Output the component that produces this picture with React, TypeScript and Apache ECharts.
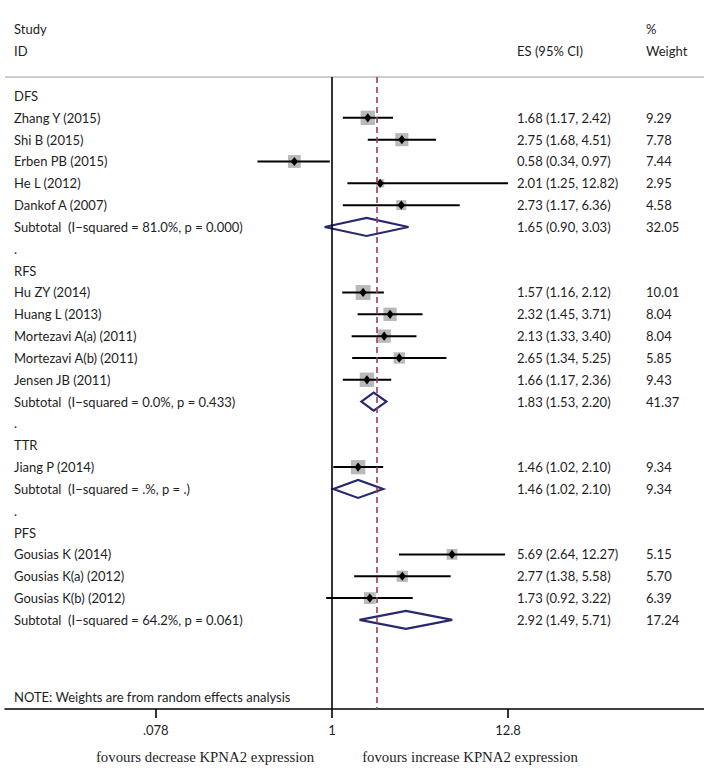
import React, { useEffect, useRef } from 'react';
import * as echarts from 'echarts';

// Forest plot rows, top to bottom
const rowLabels = [
  'DFS',
  'Zhang Y (2015)',
  'Shi B (2015)',
  'Erben PB (2015)',
  'He L (2012)',
  'Dankof A (2007)',
  'Subtotal  (I\u2212squared = 81.0%, p = 0.000)',
  '.',
  'RFS',
  'Hu ZY (2014)',
  'Huang L (2013)',
  'Mortezavi A(a) (2011)',
  'Mortezavi A(b) (2011)',
  'Jensen JB (2011)',
  'Subtotal  (I\u2212squared = 0.0%, p = 0.433)',
  '.',
  'TTR',
  'Jiang P (2014)',
  'Subtotal  (I\u2212squared = .%, p = .)',
  '.',
  'PFS',
  'Gousias K (2014)',
  'Gousias K(a) (2012)',
  'Gousias K(b) (2012)',
  'Subtotal  (I\u2212squared = 64.2%, p = 0.061)',
];

const rowKinds = [
  'head', 'study', 'study', 'study', 'study', 'study', 'sub', 'gap',
  'head', 'study', 'study', 'study', 'study', 'study', 'sub', 'gap',
  'head', 'study', 'sub', 'gap',
  'head', 'study', 'study', 'study', 'sub',
];

const esValues = [
  null, 1.68, 2.75, 0.58, 2.01, 2.73, 1.65, null,
  null, 1.57, 2.32, 2.13, 2.65, 1.66, 1.83, null,
  null, 1.46, 1.46, null,
  null, 5.69, 2.77, 1.73, 2.92,
];

const ciLower = [
  null, 1.17, 1.68, 0.34, 1.25, 1.17, 0.90, null,
  null, 1.16, 1.45, 1.33, 1.34, 1.17, 1.53, null,
  null, 1.02, 1.02, null,
  null, 2.64, 1.38, 0.92, 1.49,
];

const ciUpper = [
  null, 2.42, 4.51, 0.97, 12.82, 6.36, 3.03, null,
  null, 2.12, 3.71, 3.40, 5.25, 2.36, 2.20, null,
  null, 2.10, 2.10, null,
  null, 12.27, 5.58, 3.22, 5.71,
];

const weights = [
  null, 9.29, 7.78, 7.44, 2.95, 4.58, 32.05, null,
  null, 10.01, 8.04, 8.04, 5.85, 9.43, 41.37, null,
  null, 9.34, 9.34, null,
  null, 5.15, 5.70, 6.39, 17.24,
];

const overallES = 1.92;

const tickValues = [0.078, 1, 12.8];
const tickLabels = ['.078', '1', '12.8'];

// Layout
const WIDTH = 704;
const HEIGHT = 774;
const GRID_LEFT = 5;
const GRID_TOP = 77;
const GRID_BOTTOM = 65;
const X_MIN = 0.00878;
const X_MAX = 218.8;
const Y_MIN = -0.87;
const Y_MAX = 28.08;
const LABEL_X = 14;
const ES_X = 517;
const WT_X = 646;
const BOX_SCALE = 4.7;

const SANS = 'Lato';
const TEXT_SIZE = 13;
const TEXT_COLOR = '#1e1e1e';
const NAVY = '#28286f';
const BOX_GREY = '#b9b9b9';
const REF_RED = '#9e3b52';

const font = `${TEXT_SIZE}px ${SANS}`;

function fmt(v: number) {
  return v.toFixed(2);
}

export default function App() {
  const ref = useRef<HTMLDivElement>(null);

  useEffect(() => {
    document.body.style.margin = '0';
    if (!ref.current) return;
    const chart = echarts.init(ref.current, undefined, { renderer: 'svg' });

    const rowData = rowLabels.map((_, i) => ({
      value: [esValues[i] ?? 1, i],
    }));

    const renderRow = (params: any, api: any) => {
      const i = api.value(1) as number;
      const yPx = api.coord([1, i])[1];
      const children: any[] = [];
      children.push({
        type: 'text',
        x: LABEL_X,
        y: yPx,
        style: {
          text: rowLabels[i],
          font,
          fill: TEXT_COLOR,
          textAlign: 'left',
          textVerticalAlign: 'middle',
        },
      });
      const es = esValues[i];
      if (es != null) {
        const lo = ciLower[i] as number;
        const hi = ciUpper[i] as number;
        const xl = api.coord([lo, i])[0];
        const xh = api.coord([hi, i])[0];
        const xe = api.coord([es, i])[0];
        if (rowKinds[i] === 'study') {
          const side = BOX_SCALE * Math.sqrt(weights[i] as number);
          children.push({
            type: 'rect',
            shape: { x: xe - side / 2, y: yPx - side / 2, width: side, height: side },
            style: { fill: BOX_GREY },
          });
          children.push({
            type: 'line',
            shape: { x1: xl, y1: yPx, x2: xh, y2: yPx },
            style: { stroke: '#000', lineWidth: 2 },
          });
          children.push({
            type: 'polygon',
            shape: {
              points: [
                [xe - 3.6, yPx],
                [xe, yPx - 4.6],
                [xe + 3.6, yPx],
                [xe, yPx + 4.6],
              ],
            },
            style: { fill: '#000' },
          });
        } else {
          children.push({
            type: 'polygon',
            shape: {
              points: [
                [xl, yPx],
                [xe, yPx - 9],
                [xh, yPx],
                [xe, yPx + 9],
              ],
            },
            style: { fill: 'none', stroke: NAVY, lineWidth: 2.2 },
          });
        }
        children.push({
          type: 'text',
          x: ES_X,
          y: yPx,
          style: {
            text: `${fmt(es)} (${fmt(lo)}, ${fmt(hi)})`,
            font,
            fill: TEXT_COLOR,
            textAlign: 'left',
            textVerticalAlign: 'middle',
          },
        });
        children.push({
          type: 'text',
          x: WT_X,
          y: yPx,
          style: {
            text: fmt(weights[i] as number),
            font,
            fill: TEXT_COLOR,
            textAlign: 'left',
            textVerticalAlign: 'middle',
          },
        });
      }
      return { type: 'group', children };
    };

    const headerText = (text: string, x: number, y: number) => ({
      type: 'text',
      x,
      y,
      style: { text, font, fill: TEXT_COLOR, textAlign: 'left', textVerticalAlign: 'middle' },
    });

    const serifText = (text: string, x: number, y: number) => ({
      type: 'text',
      x,
      y,
      style: {
        text,
        font: '14.8px "Liberation Serif"',
        fill: TEXT_COLOR,
        textAlign: 'center',
        textVerticalAlign: 'middle',
      },
    });

    chart.setOption({
      animation: false,
      backgroundColor: '#ffffff',
      grid: {
        left: GRID_LEFT,
        right: 0,
        top: GRID_TOP,
        bottom: GRID_BOTTOM,
        containLabel: false,
        outerBoundsMode: 'none',
      },
      xAxis: {
        type: 'log',
        logBase: 12.8,
        min: X_MIN,
        max: X_MAX,
        position: 'bottom',
        axisLine: { show: true, onZero: false, lineStyle: { color: '#000', width: 1.6 } },
        axisTick: {
          show: true,
          customValues: tickValues,
          length: 9,
          lineStyle: { color: '#000', width: 1.6 },
        },
        axisLabel: {
          customValues: tickValues,
          margin: 14,
          fontFamily: SANS,
          fontSize: TEXT_SIZE,
          color: TEXT_COLOR,
          formatter: (v: number) => {
            let best = 0;
            tickValues.forEach((t, k) => {
              if (Math.abs(Math.log(t) - Math.log(v)) < Math.abs(Math.log(tickValues[best]) - Math.log(v))) best = k;
            });
            return tickLabels[best];
          },
        },
        splitLine: { show: false },
        minorTick: { show: false },
      },
      yAxis: {
        type: 'value',
        inverse: true,
        min: Y_MIN,
        max: Y_MAX,
        show: false,
        splitLine: { show: false },
      },
      graphic: [
        {
          type: 'line',
          shape: { x1: GRID_LEFT, y1: GRID_TOP, x2: WIDTH, y2: GRID_TOP },
          style: { stroke: '#bdbdbd', lineWidth: 1.6 },
        },
        headerText('Study', LABEL_X, 29),
        headerText('ID', LABEL_X, 51),
        headerText('ES (95% CI)', ES_X, 51),
        headerText('%', WT_X, 29),
        headerText('Weight', WT_X, 51),
        headerText('NOTE: Weights are from random effects analysis', LABEL_X, 697),
        serifText('fovours decrease KPNA2 expression', 205, 757),
        serifText('fovours increase KPNA2 expression', 470, 757),
      ],
      series: [
        {
          type: 'line',
          data: [],
          silent: true,
          markLine: {
            silent: true,
            symbol: 'none',
            label: { show: false },
            data: [
              { xAxis: 1, lineStyle: { color: '#000', width: 1.6, type: 'solid' } },
              { xAxis: overallES, lineStyle: { color: REF_RED, width: 1.6, type: [6, 4] } },
            ],
          },
        },
        {
          type: 'custom',
          coordinateSystem: 'cartesian2d',
          encode: { x: 0, y: 1 },
          clip: false,
          data: rowData,
          renderItem: renderRow,
          z: 3,
        },
      ],
    });

    return () => chart.dispose();
  }, []);

  return <div ref={ref} style={{ width: WIDTH, height: HEIGHT }} />;
}
